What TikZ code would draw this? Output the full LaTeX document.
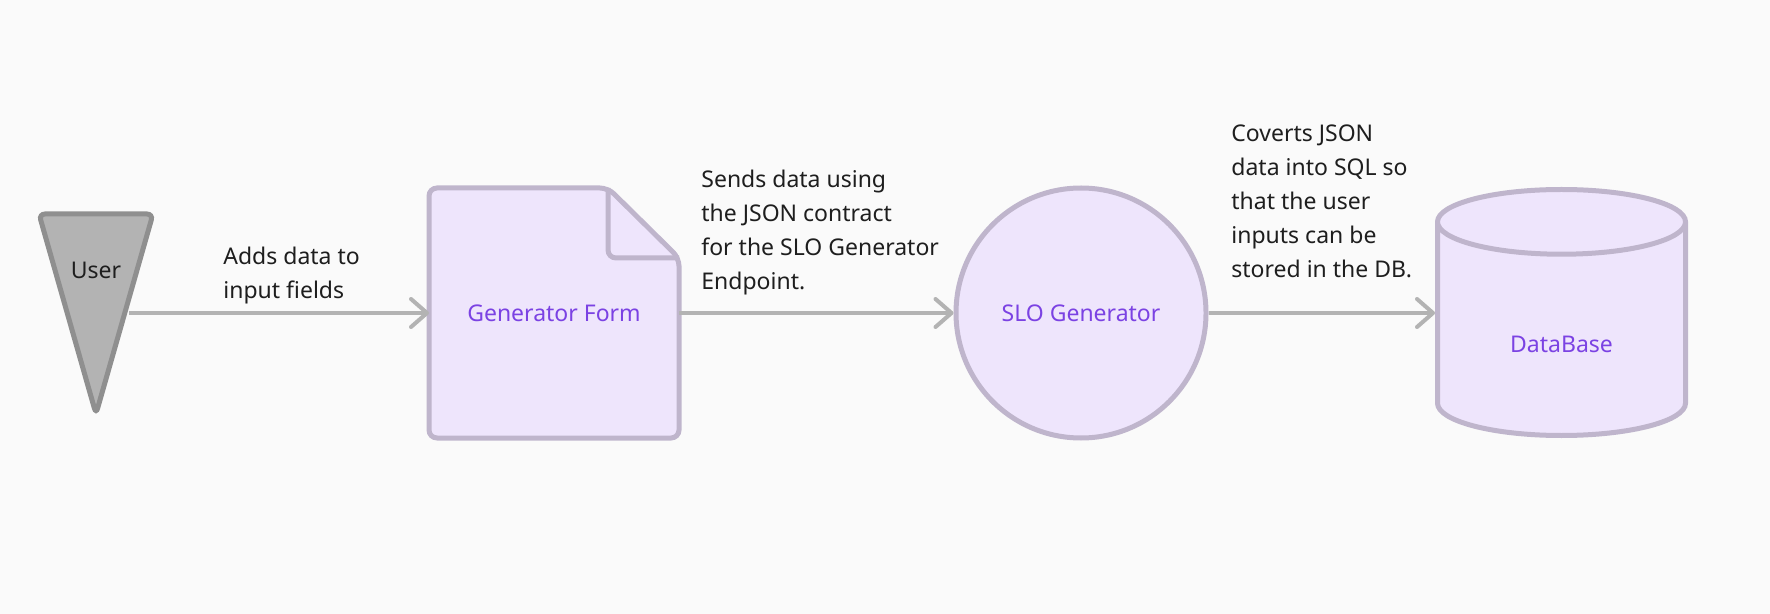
\documentclass[tikz,border=0pt]{standalone}
\usepackage{fontspec}
\setmainfont{Noto Sans}
\usetikzlibrary{shapes.geometric, arrows.meta, positioning, calc, backgrounds}
\definecolor{paperWhite}{HTML}{FAFAFA}
\definecolor{userGray}{HTML}{B3B3B3}
\definecolor{userLine}{HTML}{8F8F8F}
\definecolor{shapeFill}{HTML}{EEE5FC}
\definecolor{shapeLine}{HTML}{BFB5CC}
\definecolor{shapeText}{HTML}{7B42E3}
\definecolor{labelInk}{HTML}{1E1E1E}
\definecolor{flowGray}{HTML}{B3B3B3}
\pagecolor{paperWhite}
\newcommand{\diagramfont}{\fontsize{11.5}{17}\selectfont}
\tikzset{
    shapebox/.style={fill=shapeFill, draw=shapeLine, line width=2.5pt, text=shapeText, font=\diagramfont},
    flow/.style={draw=flowGray, line width=2pt, -{Straight Barb[length=8pt, width=14pt, round]}},
    note/.style={align=left, anchor=base west, text=labelInk, font=\diagramfont, inner sep=0pt}
}

\begin{document}
\begin{tikzpicture}[x=0.5pt, y=-0.5pt]
        \useasboundingbox (0,0) rectangle (1770,614);

        % User (funnel)
        \draw[fill=userGray, draw=userLine, line width=2.5pt, rounded corners=3pt] (39,214) -- (153,214) -- (96,414) -- cycle;
        \node[text=labelInk, font=\diagramfont] (user) at (96,270) {User};
        \coordinate (userout) at (129,313);

        % Generator Form (document with folded corner)
        \node[minimum width=125pt, minimum height=125pt, outer sep=0pt, text=shapeText, font=\diagramfont] (form) at (554,313) {Generator Form};
        \begin{scope}[on background layer]
            \draw[shapebox, rounded corners=4pt] ($(form.north east)+(-71,0)$) -- (form.north west) -- (form.south west) -- (form.south east) -- ($(form.north east)+(0,70)$) -- cycle;
            \draw[draw=shapeLine, line width=2.5pt, rounded corners=4pt] ($(form.north east)+(-71,0)$) -- ($(form.north east)+(-71,70)$) -- ($(form.north east)+(0,70)$);
        \end{scope}

        % SLO Generator
        \node[shapebox, circle, minimum size=125pt, inner sep=0pt] (slo) at (1081,313) {SLO Generator};

        % DataBase
        \node[shapebox, cylinder, shape border rotate=90, aspect=0.63, minimum width=124pt, minimum height=123pt, inner sep=0pt, anchor=shape center] (db) at (1561.5,312.5) {\raisebox{-7pt}[\height][\depth]{DataBase}};

        % Flows
        \draw[flow] (userout) -- (form);
        \draw[flow] (form) -- (slo);
        \draw[flow] (slo.east) -- (slo.east -| db.west);

        % Labels
        \node[note] (addnote) at (223,299) {Adds data to\\input fields};
        \node[note] (sendnote) at (701,290) {Sends data using\\the JSON contract\\for the SLO Generator\\Endpoint.};
        \node[note] (convnote) at (1231,278) {Coverts JSON\\data into SQL so\\that the user\\inputs can be\\stored in the DB.};
    \end{tikzpicture}
\end{document}
